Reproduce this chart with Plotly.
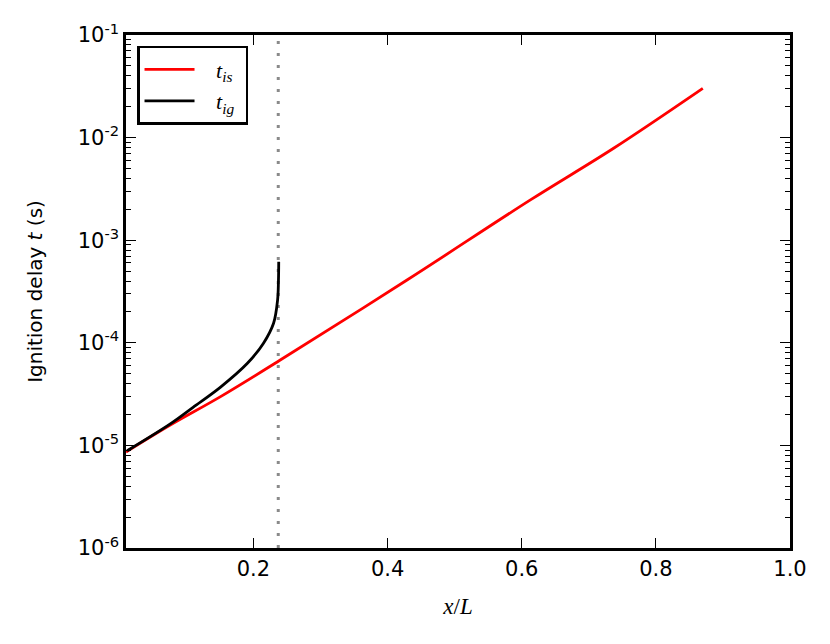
import plotly.graph_objects as go

# Data
x_is = [0.010, 0.076, 0.151, 0.240, 0.429, 0.613, 0.737, 0.870]
t_is = [8.63e-6, 1.58e-5, 2.99e-5, 6.79e-5, 4.09e-4, 2.47e-3, 7.87e-3, 3.02e-2]

x_ig = [0.0117, 0.076, 0.110, 0.151, 0.191, 0.215, 0.230, 0.236, 0.2373, 0.2377]
t_ig = [8.87e-6, 1.62e-5, 2.35e-5, 3.70e-5, 6.31e-5, 9.91e-5, 1.55e-4, 2.61e-4, 4.0e-4, 6.17e-4]

x_ignition = 0.237

x_ticks = [0.2, 0.4, 0.6, 0.8, 1.0]
x_ticklabels = ["0.2", "0.4", "0.6", "0.8", "1.0"]
y_ticks = [1e-6, 1e-5, 1e-4, 1e-3, 1e-2, 1e-1]
y_ticklabels = ["10<sup>-6</sup>", "10<sup>-5</sup>", "10<sup>-4</sup>",
                "10<sup>-3</sup>", "10<sup>-2</sup>", "10<sup>-1</sup>"]
y_minor = [m * 10 ** e for e in range(-6, -1) for m in range(2, 10)]

fig = go.Figure()
fig.add_trace(go.Scatter(x=x_is, y=t_is, mode="lines",
                         name="&nbsp;&nbsp;&nbsp;<i>t<sub>is</sub></i>&nbsp;",
                         legendgroup="a",
                         line=dict(color="#ff0000", width=2.8, shape="spline")))
fig.add_trace(go.Scatter(x=x_ig, y=t_ig, mode="lines",
                         name="&nbsp;&nbsp;&nbsp;<i>t<sub>ig</sub></i>&nbsp;",
                         legendgroup="b",
                         line=dict(color="#000000", width=2.8, shape="spline")))
fig.add_shape(type="line", xref="x", yref="paper", x0=x_ignition, x1=x_ignition, y0=0, y1=1,
              line=dict(color="#8a8a8a", width=3, dash="3px,9px"), layer="below")

axis_common = dict(showline=True, linecolor="black", linewidth=2.5, mirror="ticks",
                   ticks="inside", tickcolor="black", tickwidth=1.3, showgrid=False,
                   zeroline=False, tickfont=dict(family="DejaVu Sans", size=21, color="black"))

fig.update_xaxes(range=[0.01, 1.0], tickvals=x_ticks, ticktext=x_ticklabels, ticklen=10,
                 title=dict(text="<i>x</i>/<i>L</i>",
                            font=dict(family="Liberation Serif", size=23, color="black"),
                            standoff=18),
                 **axis_common)
fig.update_yaxes(type="log", range=[-6, -1], tickvals=y_ticks, ticktext=y_ticklabels, ticklen=10,
                 minor=dict(tickvals=y_minor, ticks="inside", ticklen=5, tickcolor="black", tickwidth=1.2),
                 title=dict(text="Ignition delay <i>t</i> (s)",
                            font=dict(family="DejaVu Sans", size=20, color="black"),
                            standoff=30),
                 **axis_common)

fig.update_layout(
    width=822, height=636,
    margin=dict(l=118, r=40, t=27, b=96),
    paper_bgcolor="white", plot_bgcolor="white",
    legend=dict(x=0.0166, y=0.9786, xanchor="left", yanchor="top",
                bordercolor="black", borderwidth=2.5, bgcolor="white",
                font=dict(family="Liberation Serif", size=22, color="black"),
                itemwidth=50, tracegroupgap=0),
    showlegend=True,
)

fig.write_html("out.html")
